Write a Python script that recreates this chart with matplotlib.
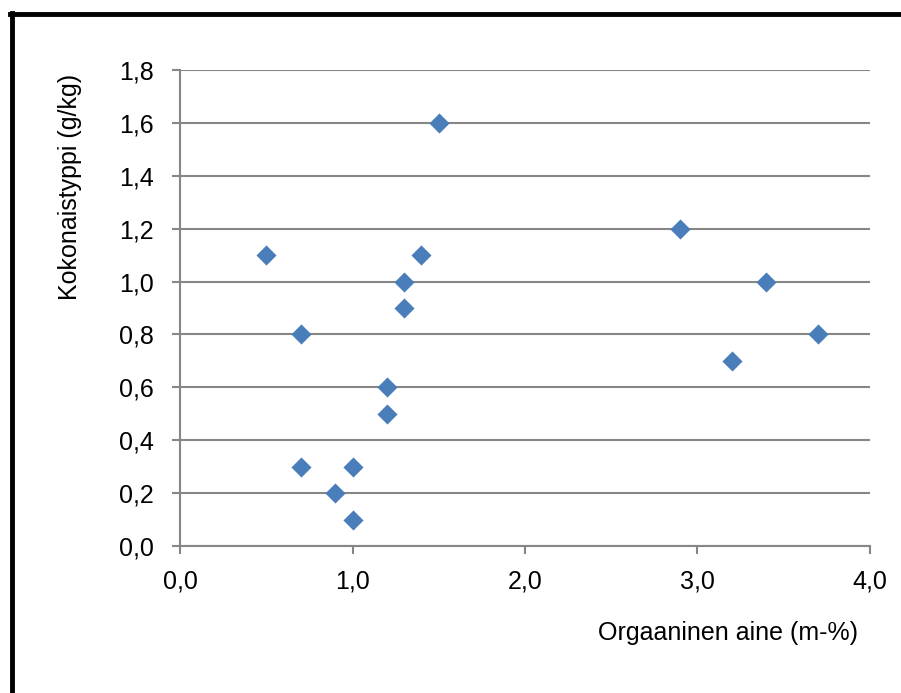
import matplotlib
matplotlib.use("Agg")
import matplotlib.pyplot as plt
from matplotlib.lines import Line2D
from matplotlib.ticker import FuncFormatter

# Organic matter (m-%) vs total nitrogen (g/kg)
organic = [0.5, 0.7, 0.7, 0.9, 1.0, 1.0, 1.2, 1.2, 1.3, 1.3, 1.4, 1.5, 2.9, 3.2, 3.4, 3.7]
nitrogen = [1.1, 0.8, 0.3, 0.2, 0.3, 0.1, 0.6, 0.5, 1.0, 0.9, 1.1, 1.6, 1.2, 0.7, 1.0, 0.8]

x_ticks = [0.0, 1.0, 2.0, 3.0, 4.0]
y_ticks = [0.0, 0.2, 0.4, 0.6, 0.8, 1.0, 1.2, 1.4, 1.6, 1.8]

plt.rcParams["font.family"] = ["Liberation Sans", "DejaVu Sans"]

W, H = 901, 693
fig = plt.figure(figsize=(W / 100, H / 100), dpi=100)
ax = fig.add_axes([180 / W, 1 - 546 / H, 690 / W, 476 / H])

grid_col = "#868686"
ax.scatter(organic, nitrogen, marker="D", s=105, color="#4a7ebb", zorder=3, linewidths=0)

ax.set_xlim(0, 4)
ax.set_ylim(0, 1.8)
ax.set_xticks(x_ticks)
ax.set_yticks(y_ticks)
comma = FuncFormatter(lambda v, p: f"{v:.1f}".replace(".", ","))
ax.xaxis.set_major_formatter(comma)
ax.yaxis.set_major_formatter(comma)

ax.yaxis.grid(True, color=grid_col, linewidth=1.5)
ax.set_axisbelow(True)
for side in ["top", "right"]:
    ax.spines[side].set_visible(False)
for side in ["left", "bottom"]:
    ax.spines[side].set_color(grid_col)
    ax.spines[side].set_linewidth(1.5)
ax.tick_params(axis="both", direction="out", length=6, width=1.5, color=grid_col,
               labelsize=18, labelcolor="black")
ax.tick_params(axis="x", pad=11)
ax.tick_params(axis="y", pad=13)

ax.set_xlabel("Orgaaninen aine (m-%)", fontsize=18)
ax.xaxis.set_label_coords(0.983, -0.158)
ax.xaxis.label.set_horizontalalignment("right")
ax.set_ylabel("Kokonaistyppi (g/kg)", fontsize=18)
ax.yaxis.set_label_coords(-0.142, 0.755)

# black outer frame (only top and left edges visible)
fig.add_artist(Line2D([12 / W, 12 / W], [0, 1 - 13 / H], color="black", linewidth=3.5,
                      transform=fig.transFigure))
fig.add_artist(Line2D([10 / W, 1], [1 - 13.5 / H, 1 - 13.5 / H], color="black", linewidth=3.5,
                      transform=fig.transFigure))

fig.savefig("out.png", dpi=100)
